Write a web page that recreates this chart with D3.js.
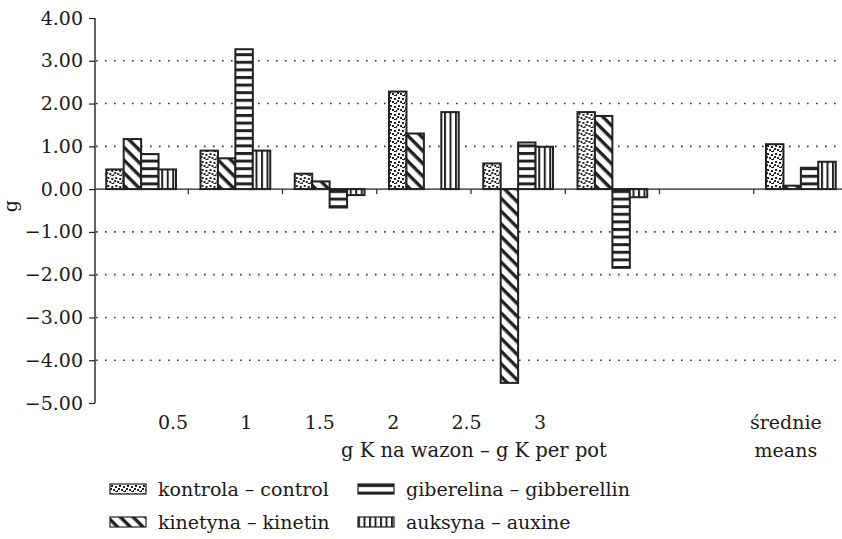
<!DOCTYPE html>
<html>
<head>
<meta charset="utf-8">
<script src="https://cdn.jsdelivr.net/npm/d3@7"></script>
<style>
  body { margin: 0; background: #fff; }
  svg text { font-family: "DejaVu Serif", serif; fill: #1a1a1a; }
</style>
</head>
<body>
<svg id="chart" width="842" height="539"></svg>
<script>
// grupy (g K na wazon), pusta kolumna przed średnimi
const categories = ["0.5", "1", "1.5", "2", "2.5", "3", "", "średnie"]
const kontrola   = [0.46, 0.90, 0.36, 2.28, 0.60, 1.80, null, 1.05]
const kinetyna   = [1.17, 0.72, 0.18, 1.30, -4.53, 1.71, null, 0.08]
const giberelina = [0.82, 3.27, -0.43, 0, 1.09, -1.84, null, 0.50]
const auksyna    = [0.46, 0.90, -0.14, 1.80, 0.99, -0.19, null, 0.64]
const yTicks = [4, 3, 2, 1, 0, -1, -2, -3, -4, -5]
const dawkiLabels = ["0.5", "1", "1.5", "2", "2.5", "3"]

const series = [
  {key: "kontrola", label: "kontrola – control", values: kontrola, pat: "p-dots"},
  {key: "kinetyna", label: "kinetyna – kinetin", values: kinetyna, pat: "p-diag"},
  {key: "giberelina", label: "giberelina – gibberellin", values: giberelina, pat: "p-horiz"},
  {key: "auksyna", label: "auksyna – auxine", values: auksyna, pat: "p-vert"}
]

const svg = d3.select("#chart")
const defs = svg.append("defs")

// wzory wypełnienia
const dots = defs.append("pattern").attr("id", "p-dots")
  .attr("patternUnits", "userSpaceOnUse").attr("width", 8).attr("height", 8)
dots.append("rect").attr("width", 8).attr("height", 8).attr("fill", "#fff")
;[[1,1],[5,2],[3,5],[7,6],[0,4],[5,7]].forEach(([x, y]) =>
  dots.append("rect").attr("x", x).attr("y", y).attr("width", 2).attr("height", 2).attr("fill", "#222"))

const diag = defs.append("pattern").attr("id", "p-diag")
  .attr("patternUnits", "userSpaceOnUse").attr("width", 9).attr("height", 9)
  .attr("patternTransform", "rotate(45)")
diag.append("rect").attr("width", 9).attr("height", 9).attr("fill", "#fff")
diag.append("rect").attr("width", 9).attr("height", 3.4).attr("fill", "#222")

const horiz = defs.append("pattern").attr("id", "p-horiz")
  .attr("patternUnits", "userSpaceOnUse").attr("width", 8).attr("height", 7.6)
horiz.append("rect").attr("width", 8).attr("height", 7.6).attr("fill", "#fff")
horiz.append("rect").attr("y", 0).attr("width", 8).attr("height", 3).attr("fill", "#222")

const vert = defs.append("pattern").attr("id", "p-vert")
  .attr("patternUnits", "userSpaceOnUse").attr("width", 5.5).attr("height", 8)
vert.append("rect").attr("width", 5.5).attr("height", 8).attr("fill", "#fff")
vert.append("rect").attr("x", 0).attr("width", 2).attr("height", 8).attr("fill", "#222")

const x0 = d3.scaleBand().domain(d3.range(categories.length)).range([94, 848]).paddingInner(0.26).paddingOuter(0.13)
const x1 = d3.scaleBand().domain(series.map(s => s.key)).range([0, x0.bandwidth()])
const y = d3.scaleLinear().domain([-5, 4]).range([403, 18])
// etykiety dawek są w oryginale rozstawione równo, niezależnie od grup słupków
const xLab = d3.scalePoint().domain(dawkiLabels).range([173, 540])

// linie siatki kropkowane
svg.append("g")
  .selectAll("line")
  .data(yTicks.filter(t => t !== 0 && t !== 4 && t !== -5))
  .join("line")
  .attr("x1", 96).attr("x2", 842)
  .attr("y1", d => y(d)).attr("y2", d => y(d))
  .attr("stroke", "#333").attr("stroke-width", 1.6)
  .attr("stroke-dasharray", "1.6,7.4")

// oś Y
const yAxis = svg.append("g").attr("transform", "translate(95,0)")
  .call(d3.axisLeft(y).tickValues(yTicks).tickSize(6).tickPadding(6)
    .tickFormat(d => d3.format(".2f")(d).replace("-", "−")))
yAxis.select(".domain").attr("stroke", "#222").attr("stroke-width", 1.4).attr("d", `M0,${y(4)}V${y(-5)}`)
yAxis.selectAll(".tick line").attr("stroke", "#222").attr("stroke-width", 1.2)
yAxis.selectAll(".tick text").attr("font-size", 19).style("font-family", "DejaVu Serif").attr("fill", "#1a1a1a")

// słupki
const groups = svg.append("g")
  .selectAll("g")
  .data(categories.map((c, i) => i))
  .join("g")
  .attr("transform", i => `translate(${x0(i)},0)`)

groups.selectAll("rect")
  .data(i => series.map(s => ({key: s.key, pat: s.pat, v: s.values[i]})).filter(d => d.v != null && d.v !== 0))
  .join("rect")
  .attr("x", d => x1(d.key))
  .attr("width", x1.bandwidth())
  .attr("y", d => y(Math.max(0, d.v)))
  .attr("height", d => Math.abs(y(d.v) - y(0)))
  .attr("fill", d => `url(#${d.pat})`)
  .attr("stroke", "#222").attr("stroke-width", 2)

// oś X na poziomie zera
const xAxisG = svg.append("g")
xAxisG.append("line")
  .attr("x1", 95).attr("x2", 842).attr("y1", y(0)).attr("y2", y(0))
  .attr("stroke", "#222").attr("stroke-width", 1.4)
xAxisG.selectAll("line.tk")
  .data(d3.range(1, categories.length))
  .join("line").attr("class", "tk")
  .attr("x1", i => x0(i) - x0.step() * x0.paddingInner() / 2)
  .attr("x2", i => x0(i) - x0.step() * x0.paddingInner() / 2)
  .attr("y1", y(0)).attr("y2", y(0) + 5)
  .attr("stroke", "#222").attr("stroke-width", 1.2)

// etykiety kategorii
svg.append("g")
  .selectAll("text")
  .data(dawkiLabels)
  .join("text")
  .attr("x", d => xLab(d))
  .attr("y", 429)
  .attr("text-anchor", "middle")
  .attr("font-size", 19)
  .text(d => d)
const meansX = x0(7) + x0.bandwidth() / 2 - 15
svg.append("text")
  .attr("x", meansX).attr("y", 429)
  .attr("text-anchor", "middle").attr("font-size", 19)
  .text(categories[7])
svg.append("text")
  .attr("x", meansX).attr("y", 457)
  .attr("text-anchor", "middle").attr("font-size", 19)
  .text("means")

svg.append("text")
  .attr("x", 474).attr("y", 457).attr("text-anchor", "middle").attr("font-size", 19.5)
  .text("g K na wazon – g K per pot")

svg.append("text")
  .attr("transform", `translate(17,${y(-0.4)}) rotate(-90)`)
  .attr("text-anchor", "middle").attr("font-size", 19)
  .text("g")

// legenda
const legend = svg.append("g")
  .selectAll("g")
  .data(series)
  .join("g")
  .attr("transform", (d, i) => `translate(${i < 2 ? 110 : 358},${i % 2 === 0 ? 484 : 517})`)
legend.append("rect")
  .attr("width", 36).attr("height", 10)
  .attr("fill", d => `url(#${d.pat})`)
  .attr("stroke", "#222").attr("stroke-width", 1.2)
legend.append("text")
  .attr("x", 48).attr("y", 12)
  .attr("font-size", 19)
  .text(d => d.label)
</script>
</body>
</html>
